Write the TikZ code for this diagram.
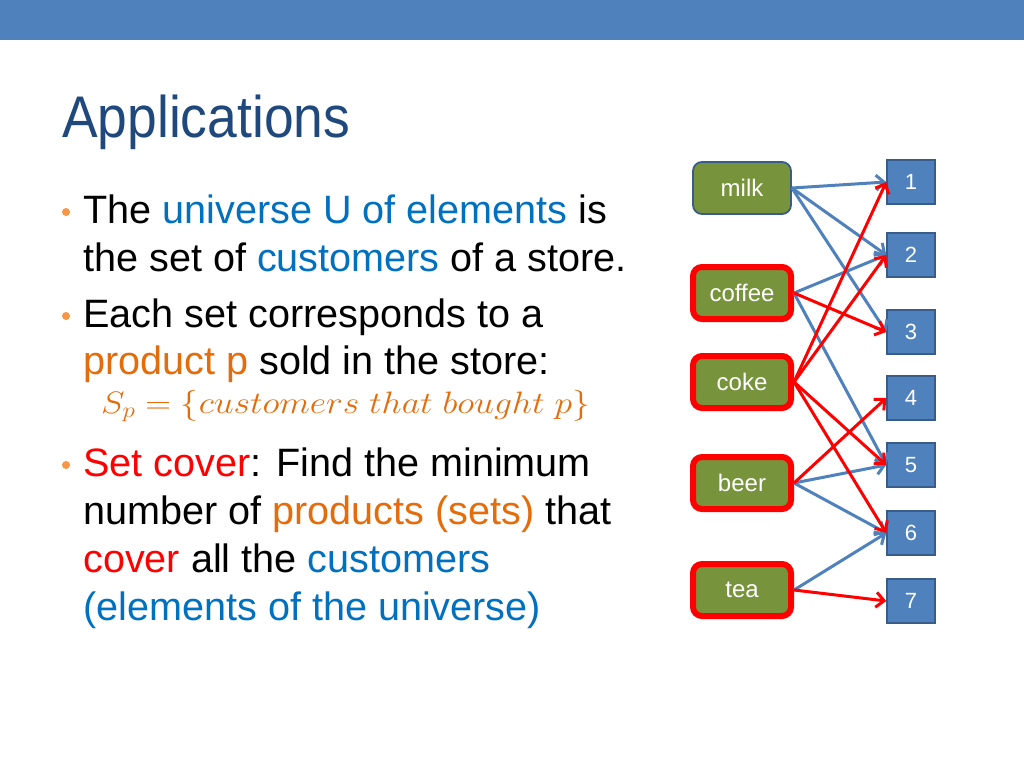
\RequirePackage{fix-cm}
\documentclass[tikz,border=0pt]{standalone}
\usepackage{fontspec}
\setmainfont{Liberation Sans}
\usetikzlibrary{arrows.meta}

\definecolor{barblue}{HTML}{4F81BD}
\definecolor{titleblue}{HTML}{1F497D}
\definecolor{textblue}{HTML}{0070C0}
\definecolor{prodorange}{HTML}{E46C0A}
\definecolor{bulletorange}{HTML}{F79646}
\definecolor{setgreen}{HTML}{77933C}
\definecolor{boxedge}{HTML}{385D8A}
\definecolor{coverred}{HTML}{FF0000}

\tikzstyle{setbox} = [
    rectangle,
    rounded corners=9pt,
    minimum width=98pt,
    minimum height=52pt,
    fill=setgreen,
    draw=boxedge,
    line width=1.8pt,
    text=white,
    font=\fontsize{24}{28}\selectfont
]
\tikzstyle{picked} = [
    draw=coverred,
    line width=6pt
]
\tikzstyle{elembox} = [
    rectangle,
    minimum width=48pt,
    minimum height=44pt,
    fill=barblue,
    draw=boxedge,
    line width=1.5pt,
    text=white,
    font=\fontsize{22}{26}\selectfont
]
\tikzstyle{bodytext} = [
    anchor=base west,
    inner sep=0pt,
    font=\fontsize{39.6}{48}\selectfont
]
\tikzstyle{bullet} = [
    circle,
    fill=bulletorange,
    inner sep=0pt,
    minimum size=8pt
]
\tikzstyle{arrow} = [line width=3pt,-{Straight Barb[length=8pt,width=15pt]}]
\tikzstyle{bluearrow} = [arrow, draw=barblue]
\tikzstyle{redarrow} = [arrow, draw=coverred]

\begin{document}
\begin{tikzpicture}[x=1pt,y=-1pt]

\useasboundingbox (0,0) rectangle (1024,768);
\fill [white] (0,0) rectangle (1024,768);
\fill [barblue] (0,0) rectangle (1024,40);

\node (title) [anchor=base west, inner sep=0pt, text=titleblue,
  font=\fontsize{53.4}{60}\selectfont] at (62,137)
{\scalebox{1}[1.1]{Applications}};

% bullet text
\node (b1) [bullet] at (66,212) {};
\node (line1) [bodytext] at (83,223)
{The \textcolor{textblue}{universe U of elements} is};
\node (line2) [bodytext] at (83,271)
{the set of \textcolor{textblue}{customers} of a store.};

\node (b2) [bullet] at (66,316) {};
\node (line3) [bodytext] at (83,327)
{Each set corresponds to a};
\node (line4) [bodytext] at (83,374)
{\textcolor{prodorange}{product p} sold in the store:};
\node (formula) [anchor=base west, inner sep=0pt, text=prodorange,
  font=\fontsize{31}{36}\selectfont] at (101,413)
{\scalebox{1.15}[1]{$S_p=\{customers\ that\ bought\ p\}$}};

\node (b3) [bullet] at (66,465) {};
\node (line6) [bodytext] at (83,476)
{\textcolor{coverred}{Set cover}: Find the minimum};
\node (line7) [bodytext] at (83,524)
{number of \textcolor{prodorange}{products (sets)} that};
\node (line8) [bodytext] at (83,572)
{\textcolor{coverred}{cover} all the \textcolor{textblue}{customers}};
\node (line9) [bodytext] at (83,620)
{\textcolor{textblue}{(elements of the universe)}};

% products
\node (milk) [setbox] at (742,188) {milk};

\node (coffee) [setbox, picked, node distance=105pt, below of=milk] {coffee};

\node (coke) [setbox, picked, node distance=89pt, below of=coffee] {coke};

\node (beer) [setbox, picked, node distance=101pt, below of=coke] {beer};

\node (tea) [setbox, picked, node distance=107pt, below of=beer] {tea};

% customers
\node (c1) [elembox] at (911,182) {1};
\node (c2) [elembox, node distance=73pt, below of=c1] {2};
\node (c3) [elembox, node distance=77pt, below of=c2] {3};
\node (c4) [elembox, node distance=66pt, below of=c3] {4};
\node (c5) [elembox, node distance=67pt, below of=c4] {5};
\node (c6) [elembox, node distance=68pt, below of=c5] {6};
\node (c7) [elembox, node distance=68pt, below of=c6] {7};

\draw [bluearrow] (milk.east) -- (c1.west);
\draw [bluearrow] (milk.east) -- (c2.west);
\draw [bluearrow] (milk.east) -- (c3.west);
\draw [bluearrow] (coffee.east) -- (c2.west);
\draw [bluearrow] (coffee.east) -- (c5.west);
\draw [bluearrow] (beer.east) -- (c5.west);
\draw [bluearrow] (beer.east) -- (c6.west);
\draw [bluearrow] (tea.east) -- (c6.west);

\draw [redarrow] (coffee.east) -- (c3.west);
\draw [redarrow] (coke.east) -- (c1.west);
\draw [redarrow] (coke.east) -- (c2.west);
\draw [redarrow] (coke.east) -- (c5.west);
\draw [redarrow] (coke.east) -- (c6.west);
\draw [redarrow] (beer.east) -- (c4.west);
\draw [redarrow] (tea.east) -- (c7.west);

\end{tikzpicture}
\end{document}
